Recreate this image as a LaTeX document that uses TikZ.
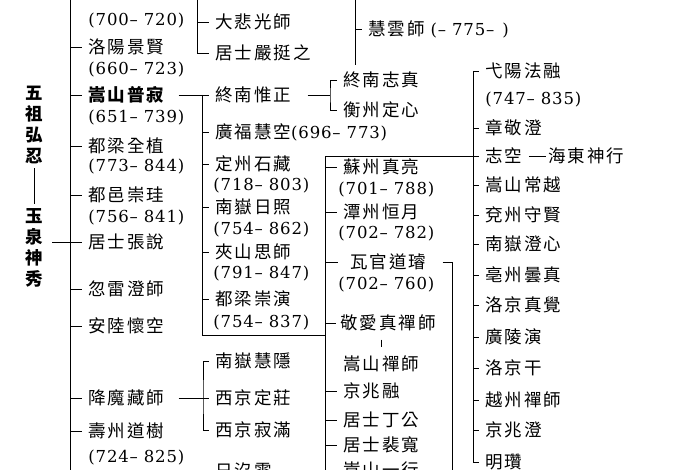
\documentclass[tikz,border=0pt]{standalone}
\usepackage{fontspec}
\newfontfamily\cjk[LetterSpace=11]{Noto Sans CJK TC}
\newfontfamily\numf[LetterSpace=5]{DejaVu Serif}
\newcommand\yr[2]{{\numf (#1\textendash\hspace{6pt}#2)}}
\tikzset{
  monk/.style={anchor=west,inner xsep=6pt,inner ysep=2pt,font=\fontsize{17.5}{20}\selectfont\cjk},
  yrs/.style={anchor=west,inner xsep=6pt,inner ysep=2pt,font=\fontsize{16.5}{20}\selectfont\numf},
  patriarch/.style={align=center,inner xsep=9pt,inner ysep=4pt,font=\fontsize{17.5}{21}\selectfont\cjk\bfseries}
}

\begin{document}
\begin{tikzpicture}[x=1pt,y=-1pt,line width=0.9pt]
  \useasboundingbox (0,0) rectangle (700,470);
  \clip (0,0) rectangle (700,470);

  % the two patriarchs
  \node[patriarch] (hongren) at (34,125) {五\\祖\\弘\\忍};
  \node[patriarch] (shenxiu) at (34,248) {玉\\泉\\神\\秀};
  \draw (hongren.south) -- (shenxiu.north);

  % first column
  \foreach \y/\n/\t in {47/jingxian/洛陽景賢, 146/quanzhi/都梁全植, 195/chonggui/都邑崇珪,
      242/zhangyue/居士張說, 289/leicheng/忽雷澄師, 326/huaikong/安陸懷空,
      398/xiangmo/降魔藏師, 431/daoshu/壽州道樹}
    \node[monk] (\n) at (82,\y) {\t};
  \node[monk,font=\fontsize{17.5}{20}\selectfont\cjk\bfseries] (puji) at (82,95) {嵩山普寂};
  \foreach \y/\a/\b [count=\i] in {21/700/720, 70/660/723, 118/651/739, 167/773/844,
      218/756/841, 458/724/825}
    \node[yrs] (ya\i) at (82,\y) {\yr{\a}{\b}};

  % second column
  \foreach \y/\n/\t in {22/dabei/大悲光師, 53/yanting/居士嚴挺之, 95/weizheng/終南惟正,
      164/shizang/定州石藏, 207/rizhao/南嶽日照, 252/sishi/夾山思師, 299/chongyan/都梁崇演,
      361/huiyin/南嶽慧隱, 398/dingzhuang/西京定莊, 430/jiman/西京寂滿, 471/rimei/日沒雲}
    \node[monk] (\n) at (209,\y) {\t};
  \node[monk] (huikong) at (209,132) {廣福慧空{\fontsize{16.5}{20}\selectfont\yr{696}{773}}};
  \foreach \y/\a/\b [count=\i] in {186/718/803, 230/754/862, 274/791/847, 323/754/837}
    \node[yrs] (yb\i) at (207,\y) {\yr{\a}{\b}};

  % third column
  \node[monk] (huiyun) at (362,29) {慧雲師\ {\fontsize{16.5}{20}\selectfont\numf (\textendash\hspace{6pt}775\textendash\hspace{8pt})}};
  \foreach \y/\n/\t in {80/zhizhen/終南志真, 110/dingxin/衡州定心, 167/zhenliang/蘇州真亮,
      212/hengyue/潭州恒月, 364/songchan/嵩山禪師, 391/jingzhaorong/京兆融,
      420/dinggong/居士丁公, 445/peikuan/居士裴寬, 470/yixing/嵩山一行}
    \node[monk] (\n) at (337,\y) {\t};
  \node[monk,inner xsep=12pt] (daoxuan) at (338,262) {瓦官道璿};
  \node[monk,inner xsep=4pt] (jingai) at (336,323) {敬愛真禪師};
  \foreach \y/\a/\b [count=\i] in {190/701/788, 234/702/782, 285/702/760}
    \node[yrs] (yc\i) at (332,\y) {\yr{\a}{\b}};

  % fourth column
  \foreach \y/\n/\t in {71/farong/弋陽法融, 128/jingcheng/章敬澄, 156/zhikong/志空,
      185/changyue/嵩山常越, 215/shouxian/兗州守賢, 244/chengxin/南嶽澄心,
      275/tanzhen/亳州曇真, 305/zhenjue/洛京真覺, 337/guangling/廣陵演,
      368/luogan/洛京干, 400/yuezhou/越州禪師, 430/jingzhaocheng/京兆澄, 462/mingzan/明瓚}
    \node[monk] (\n) at (479,\y) {\t};
  \node[monk,inner xsep=2pt] (shenxing) at (546,156) {海東神行};
  \node[yrs] (yd1) at (479,100) {\yr{747}{835}};

  % spines
  \coordinate (s1top) at (70,-10);
  \coordinate (s1bot) at (70,480);
  \coordinate (s2) at (202,335);
  \coordinate (s3bot) at (325,480);
  \coordinate (s4) at (473,0);
  \coordinate (yifu) at (197,-10);
  \coordinate (top3) at (355,-10);
  \coordinate (top3end) at (355,65);
  \coordinate (b1) at (330,95);
  \coordinate (b2) at (203,398);
  \coordinate (b3) at (203,480);
  \coordinate (s5bot) at (452,480);

  \draw (s1top) -- (s1bot);
  \foreach \n in {jingxian,puji,quanzhi,chonggui,leicheng,huaikong,xiangmo,daoshu}
    \draw (\n.west -| s1top) -- (\n.west);
  \draw (shenxiu.east |- zhangyue.west) -- (zhangyue.west);

  % puji's disciples
  \draw[shorten <=8pt] (puji.east) -- (weizheng.west);
  \draw (weizheng.west -| s2) -- (s2) -- (s2 -| s3bot);
  \foreach \n in {huikong,shizang,rizhao,sishi,chongyan}
    \draw (\n.west -| s2) -- (\n.west);
  \draw (zhikong.west) -| (s3bot);
  \foreach \n in {zhenliang,hengyue,daoxuan,jingai,jingzhaorong,dinggong,peikuan,yixing}
    \draw (\n.west -| s3bot) -- (\n.west);
  \draw (farong.west -| s4) -- (mingzan.west -| s4);
  \foreach \n in {farong,jingcheng,changyue,shouxian,chengxin,tanzhen,zhenjue,
      guangling,luogan,yuezhou,jingzhaocheng,mingzan}
    \draw (\n.west -| s4) -- (\n.west);
  \draw (zhikong.east) -- (shenxing.west);

  % smaller brackets
  \draw (yifu) |- (yanting.west);
  \draw (dabei.west -| yifu) -- (dabei.west);
  \draw (top3) -- (top3end);
  \draw (huiyun.west -| top3) -- (huiyun.west);
  \draw[shorten <=10pt] (weizheng.east) -- (b1);
  \draw (zhizhen.west) -| (b1) |- (dingxin.west);
  \draw[shorten <=8pt] (xiangmo.east) -- (dingzhuang.west);
  \draw (huiyin.west) -| (b2) |- (jiman.west);
  \draw (rimei.west) -| (b3);
  \draw[shorten <=4pt] (daoxuan.east) -| (s5bot);
  \draw[shorten <=6pt,shorten >=6pt] (jingai.south -| songchan.north) -- (songchan.north);
\end{tikzpicture}
\end{document}
